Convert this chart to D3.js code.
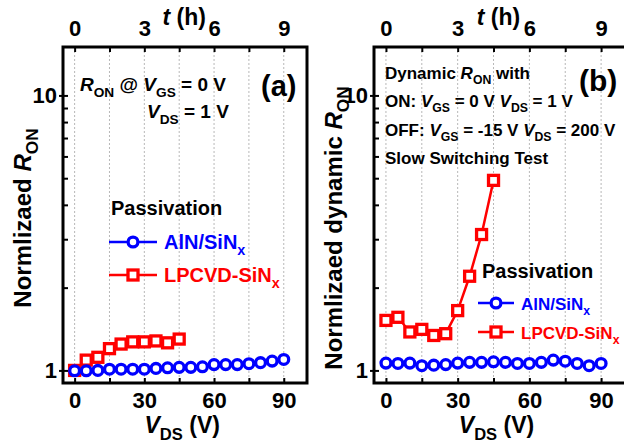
<!DOCTYPE html>
<html>
<head>
<meta charset="utf-8">
<script src="https://cdn.jsdelivr.net/npm/d3@7"></script>
<style>
  body { margin: 0; background: #fff; }
  svg { display: block; font-family: "Liberation Sans", Arial, Helvetica, sans-serif; font-weight: bold; }
</style>
</head>
<body>
<svg id="chart" width="624" height="448"></svg>
<script>
// data
const vdsRedA = [0, 5, 10, 15, 20, 25, 30, 35, 40, 45];
const ronRedA = [1.0, 1.09, 1.116, 1.2, 1.247, 1.27, 1.27, 1.28, 1.26, 1.30];
const vdsBlueA = [0, 5, 10, 15, 20, 25, 30, 35, 40, 45, 50, 55, 60, 65, 70, 75, 80, 85, 90];
const ronBlueA = [0.997, 0.997, 1.0, 1.01, 1.01, 1.01, 1.01, 1.017, 1.022, 1.026, 1.026, 1.031, 1.05, 1.05, 1.05, 1.058, 1.067, 1.081, 1.096];

const vdsRedB = [0, 5, 10, 15, 20, 25, 30, 35, 40, 45];
const ronRedB = [1.52, 1.56, 1.38, 1.41, 1.34, 1.36, 1.65, 2.2, 3.12, 4.91];
const vdsBlueB = [0, 5, 10, 15, 20, 25, 30, 35, 40, 45, 50, 55, 60, 65, 70, 75, 80, 85, 90];
const ronBlueB = [1.063, 1.06, 1.063, 1.04, 1.045, 1.05, 1.063, 1.07, 1.07, 1.075, 1.07, 1.06, 1.06, 1.07, 1.09, 1.08, 1.06, 1.04, 1.06];

const xTicks = [0, 15, 30, 45, 60, 75, 90];
const tTicks = [0, 1.5, 3, 4.5, 6, 7.5, 9];
const yTicks = [1, 2, 3, 4, 5, 6, 7, 8, 9, 10];
const legendNames = ['AlN/SiN', 'LPCVD-SiN'];

const BLUE = '#0000ff', RED = '#ff0000';
const svg = d3.select('#chart');

// text with italic / subscript parts: [text, 'i' | 's' | 'u' | '']
function rich(g, x, y, parts, size, opts) {
  opts = opts || {};
  var t = g.append('text')
    .attr('x', x).attr('y', y)
    .attr('font-size', size)
    .attr('fill', opts.fill || '#000')
    .attr('text-anchor', opts.anchor || 'start');
  if (opts.transform) t.attr('transform', opts.transform);
  parts.forEach(function(p) {
    var s = t.append('tspan').text(p[0]);
    if (p[1] === 'i') s.attr('font-style', 'italic');
    if (p[1] === 's') s.attr('font-size', size * 0.72).attr('dy', size * 0.3);
    if (p[1] === 'u') s.attr('dy', -size * 0.3);
  });
  return t;
}

function circle(g, x, y) {
  g.append('circle').attr('cx', x).attr('cy', y).attr('r', 4.9)
    .attr('fill', '#fff').attr('stroke', BLUE).attr('stroke-width', 3.3);
}
function square(g, x, y) {
  g.append('rect').attr('x', x - 5).attr('y', y - 5).attr('width', 10).attr('height', 10)
    .attr('fill', '#fff').attr('stroke', RED).attr('stroke-width', 3.3);
}

function panel(cfg) {
  var g = svg.append('g');
  var x = d3.scaleLinear().domain([-5, 100]).range([cfg.left, cfg.right]);
  var t = d3.scaleLinear().domain([-0.5, 10]).range([cfg.left, cfg.right]);
  var y = d3.scaleLog().domain([0.9, 15]).range([cfg.bottom, cfg.top]);

  // dotted grid
  g.selectAll('.grid').data(xTicks).enter().append('line')
    .attr('x1', function(d) { return x(d); }).attr('x2', function(d) { return x(d); })
    .attr('y1', cfg.top).attr('y2', cfg.bottom)
    .attr('stroke', '#b8b8b8').attr('stroke-width', 1).attr('stroke-dasharray', '2,2');

  // axes
  var bottom = g.append('g').attr('transform', 'translate(0,' + cfg.bottom + ')')
    .call(d3.axisBottom(x).tickValues(xTicks).tickSize(-5).tickPadding(9)
      .tickFormat(function(d) { return d % 30 === 0 ? d : ''; }));
  var top = g.append('g').attr('transform', 'translate(0,' + cfg.top + ')')
    .call(d3.axisTop(t).tickValues(tTicks).tickSize(-5).tickPadding(11)
      .tickFormat(function(d) { return d % 3 === 0 ? d : ''; }));
  var left = g.append('g').attr('transform', 'translate(' + cfg.left + ',0)')
    .call(d3.axisLeft(y).tickValues(yTicks).tickSize(-5).tickPadding(6)
      .tickFormat(function(d) { return d === 1 || d === 10 ? d : ''; }));
  [bottom, top, left].forEach(function(a) {
    a.select('.domain').remove();
    a.selectAll('.tick line').attr('stroke', '#000').attr('stroke-width', 2);
    a.selectAll('.tick text').attr('font-size', 22).attr('font-weight', 'bold')
      .attr('font-family', '"Liberation Sans", Arial, sans-serif').attr('fill', '#000');
  });
  left.selectAll('.tick').filter(function(d) { return d === 1 || d === 10; })
    .append('line').attr('x1', -4).attr('x2', 0).attr('stroke', '#000').attr('stroke-width', 2);

  // frame
  g.append('path')
    .attr('d', 'M' + cfg.right + ',' + cfg.top + 'H' + cfg.left + 'V' + cfg.bottom + 'H' + cfg.right + (cfg.closed ? 'Z' : ''))
    .attr('fill', 'none').attr('stroke', '#000').attr('stroke-width', 3);

  // series
  var line = d3.line().x(function(d) { return x(d[0]); }).y(function(d) { return y(d[1]); });
  var blue = d3.zip(cfg.vBlue, cfg.rBlue), red = d3.zip(cfg.vRed, cfg.rRed);
  g.append('path').datum(blue).attr('d', line).attr('fill', 'none').attr('stroke', BLUE).attr('stroke-width', 2);
  g.append('path').datum(red).attr('d', line).attr('fill', 'none').attr('stroke', RED).attr('stroke-width', 2.5);
  red.forEach(function(d) { square(g, x(d[0]), y(d[1])); });
  blue.forEach(function(d) { circle(g, x(d[0]), y(d[1])); });

  // axis titles
  var cx = x(45);
  rich(g, cx + 3, cfg.bottom + 50, [['V', 'i'], ['DS', 's'], [' (V)', 'u']], 23, { anchor: 'middle' });
  rich(g, cx + 5, 25, [['t', 'i'], [' (h)', '']], 23, { anchor: 'middle' });
  rich(g, 0, 0, cfg.yTitle, 24, { anchor: 'middle', transform: 'translate(' + cfg.yTitleX + ',' + cfg.yTitleY + ') rotate(-90)' });

  // legend
  var L = cfg.legend;
  g.append('text').attr('x', L.x).attr('y', L.y).attr('font-size', 20).text('Passivation');
  [[BLUE, circle], [RED, square]].forEach(function(s, i) {
    var ly = L.y + L.row1 + i * L.gap;
    g.append('line').attr('x1', L.lx).attr('x2', L.lx + L.lw).attr('y1', ly).attr('y2', ly)
      .attr('stroke', s[0]).attr('stroke-width', 2.5);
    s[1](g, L.lx + L.lw / 2, ly);
    rich(g, L.lx + L.lw + 7, ly + 7, [[legendNames[i], ''], ['x', 's']], L.size, { fill: s[0] });
  });

  cfg.notes.forEach(function(n) { rich(g, n.x, n.y, n.parts, n.size); });
  return g;
}

panel({
  left: 63, right: 307, top: 47, bottom: 383, closed: true,
  vBlue: vdsBlueA, rBlue: ronBlueA, vRed: vdsRedA, rRed: ronRedA,
  yTitle: [['Normlizaed ', ''], ['R', 'i'], ['ON', 's']], yTitleX: 31, yTitleY: 218,
  legend: { x: 111, y: 215, row1: 27, gap: 33, lx: 109, lw: 48, size: 20 },
  notes: [
    { x: 80, y: 91, size: 19, parts: [['R', 'i'], ['ON', 's'], [' @ ', 'u'], ['V', 'i'], ['GS', 's'], [' = 0 V', 'u']] },
    { x: 147, y: 118, size: 19, parts: [['V', 'i'], ['DS', 's'], [' = 1 V', 'u']] },
    { x: 261, y: 96, size: 29, parts: [['(a)', '']] }
  ]
});

panel({
  left: 374, right: 625, top: 47, bottom: 383, closed: false,
  vBlue: vdsBlueB, rBlue: ronBlueB, vRed: vdsRedB, rRed: ronRedB,
  yTitle: [['Normlizaed dynamic ', ''], ['R', 'i'], ['ON', 's']], yTitleX: 342, yTitleY: 228,
  legend: { x: 482, y: 278, row1: 25, gap: 29, lx: 478, lw: 36, size: 17 },
  notes: [
    { x: 385, y: 79, size: 17, parts: [['Dynamic ', ''], ['R', 'i'], ['ON', 's'], [' with', 'u']] },
    { x: 385, y: 107, size: 17, parts: [['ON: ', ''], ['V', 'i'], ['GS', 's'], [' = 0 V ', 'u'], ['V', 'i'], ['DS', 's'], [' = 1 V', 'u']] },
    { x: 385, y: 136, size: 17, parts: [['OFF: ', ''], ['V', 'i'], ['GS', 's'], [' = -15 V ', 'u'], ['V', 'i'], ['DS', 's'], [' = 200 V', 'u']] },
    { x: 385, y: 164, size: 17, parts: [['Slow Switching Test', '']] },
    { x: 579, y: 91, size: 30, parts: [['(b)', '']] }
  ]
});
</script>
</body>
</html>
